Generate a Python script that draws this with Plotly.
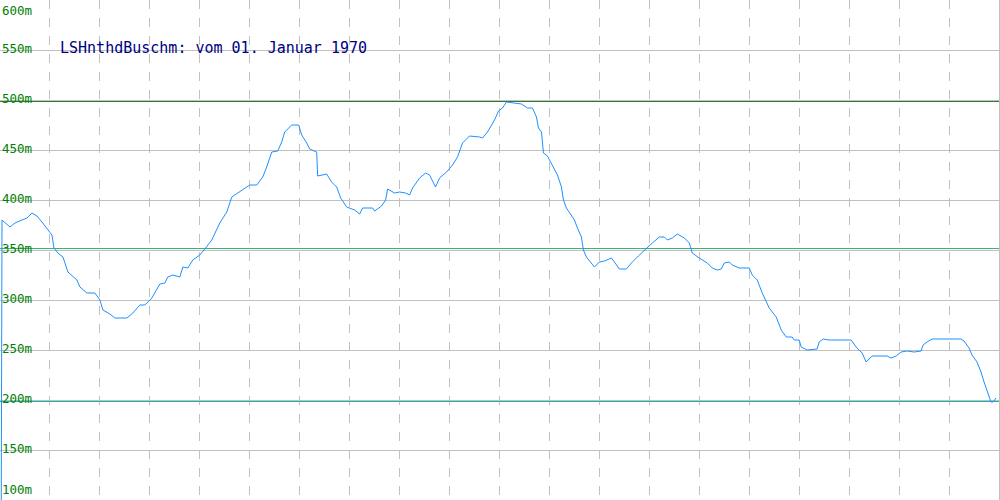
import plotly.graph_objects as go

# ---- data ----
positions = [1, 2, 10, 15, 22, 27, 32, 37, 42, 47, 52, 54, 58, 63, 68, 77, 80, 87, 95, 100,
             103, 110, 115, 127, 133, 140, 145, 152, 157, 160, 165, 168, 173, 180, 183, 188, 193, 200,
             205, 212, 220, 227, 232, 240, 250, 257, 263, 267, 272, 278, 282, 285, 292, 299, 302,
             307, 310, 317, 318, 327, 332, 337, 341, 347, 355, 360, 363, 373, 375, 382, 386, 388,
             395, 400, 406, 410, 413, 420, 426, 430, 436, 440, 447, 453, 458, 463, 470, 480, 483,
             488, 495, 499, 503, 507, 513, 522, 528, 533, 537, 539, 542, 544, 548, 553, 558, 562,
             564, 567, 572, 575, 578, 582, 584, 587, 595, 600, 605, 612, 615, 620, 627, 632, 639,
             645, 653, 660, 665, 668, 673, 678, 685, 690, 693, 700, 708, 713, 718, 722, 725, 730,
             733, 740, 750, 753, 758, 763, 770, 777, 782, 787, 793, 795, 800, 802, 808, 818, 820,
             824, 830, 852, 857, 863, 867, 870, 873, 888, 892, 897, 902, 908, 915, 922, 924, 928,
             933, 962, 965, 970, 973, 978, 982, 985, 988, 992, 994, 997]
level_m = [0, 380, 373, 377, 380, 382, 387, 384, 378, 372, 365, 352, 347, 343, 328, 320, 313, 307, 307, 300,
           290, 286, 282, 282, 287, 295, 295, 302, 310, 316, 317, 323, 325, 323, 333, 332, 340, 345,
           351, 360, 377, 388, 403, 408, 415, 415, 423, 433, 448, 449, 458, 468, 475, 475, 465,
           457, 451, 448, 424, 426, 418, 413, 402, 393, 390, 386, 392, 392, 389, 394, 400, 411,
           407, 408, 407, 405, 412, 422, 427, 425, 413, 422, 428, 435, 443, 457, 464, 463, 462,
           468, 480, 489, 492, 498, 497, 496, 492, 492, 483, 472, 468, 447, 444, 435, 425, 413,
           400, 392, 385, 380, 372, 363, 350, 343, 333, 338, 339, 342, 338, 331, 331, 337, 344,
           350, 357, 363, 363, 360, 362, 366, 362, 357, 347, 342, 337, 332, 330, 331, 337, 338,
           335, 332, 332, 325, 320, 307, 292, 283, 270, 263, 263, 260, 260, 253, 250, 251, 258,
           261, 260, 260, 253, 247, 238, 241, 244, 244, 242, 244, 248, 249, 248, 249, 255, 258,
           261, 261, 259, 252, 245, 238, 228, 218, 210, 198, 198, 202]

y_ticks = [100, 150, 200, 250, 300, 350, 400, 450, 500, 550, 600]
y_tick_labels = ["100m", "150m", "200m", "250m", "300m", "350m", "400m", "450m", "500m", "550m", "600m"]

limit_values = [500, 350, 200]
limit_colors = ["#2e7d32", "#3cb371", "#20b2aa"]
limit_pixel_offsets = [-1.5, 1.5, -1.5]

title_text = "LSHnthdBuschm: vom 01. Januar 1970"

# ---- figure ----
fig = go.Figure()

for v, c, off in zip(limit_values, limit_colors, limit_pixel_offsets):
    fig.add_trace(go.Scatter(x=[0, 1000], y=[v + off, v + off], mode="lines",
                             line=dict(color=c, width=1), hoverinfo="skip"))

fig.add_trace(go.Scatter(x=positions, y=level_m, mode="lines",
                         line=dict(color="#1e90ff", width=1), hoverinfo="skip"))

for v, t in zip(y_ticks, y_tick_labels):
    if v == max(y_ticks):
        ya = "top"
        ys = -1
    elif v == min(y_ticks):
        ya = "bottom"
        ys = 1
    else:
        ya = "middle"
        ys = 2
    fig.add_annotation(x=0, xref="paper", y=v, yref="y", text=t, showarrow=False,
                       xanchor="left", yanchor=ya, yshift=ys, xshift=0,
                       font=dict(family="DejaVu Sans Mono", size=12.5, color="#008000"))

fig.add_annotation(x=0.058, xref="paper", y=1 - 48 / 500, yref="paper", text=title_text,
                   showarrow=False, xanchor="left", yanchor="middle",
                   font=dict(family="DejaVu Sans Mono", size=15, color="#000080"))

fig.update_layout(
    width=1000, height=500,
    margin=dict(l=0, r=1, t=0, b=0),
    paper_bgcolor="white", plot_bgcolor="white",
    showlegend=False,
    xaxis=dict(range=[0, 1000], dtick=50, tick0=0, showticklabels=False,
               showgrid=True, gridcolor="#c0c0c0", griddash="dash", gridwidth=1,
               zeroline=False, showline=True, mirror=True, linecolor="#c0c0c0", linewidth=1,
               layer="below traces"),
    yaxis=dict(range=[100, 600], dtick=50, tick0=100, showticklabels=False,
               showgrid=True, gridcolor="#c0c0c0", gridwidth=1,
               zeroline=False, showline=True, mirror=True, linecolor="#c0c0c0", linewidth=1,
               layer="below traces"),
)

fig.write_html("out.html", config={"displayModeBar": False},
               post_script="document.body.style.margin='0px';document.body.style.overflow='hidden';")
